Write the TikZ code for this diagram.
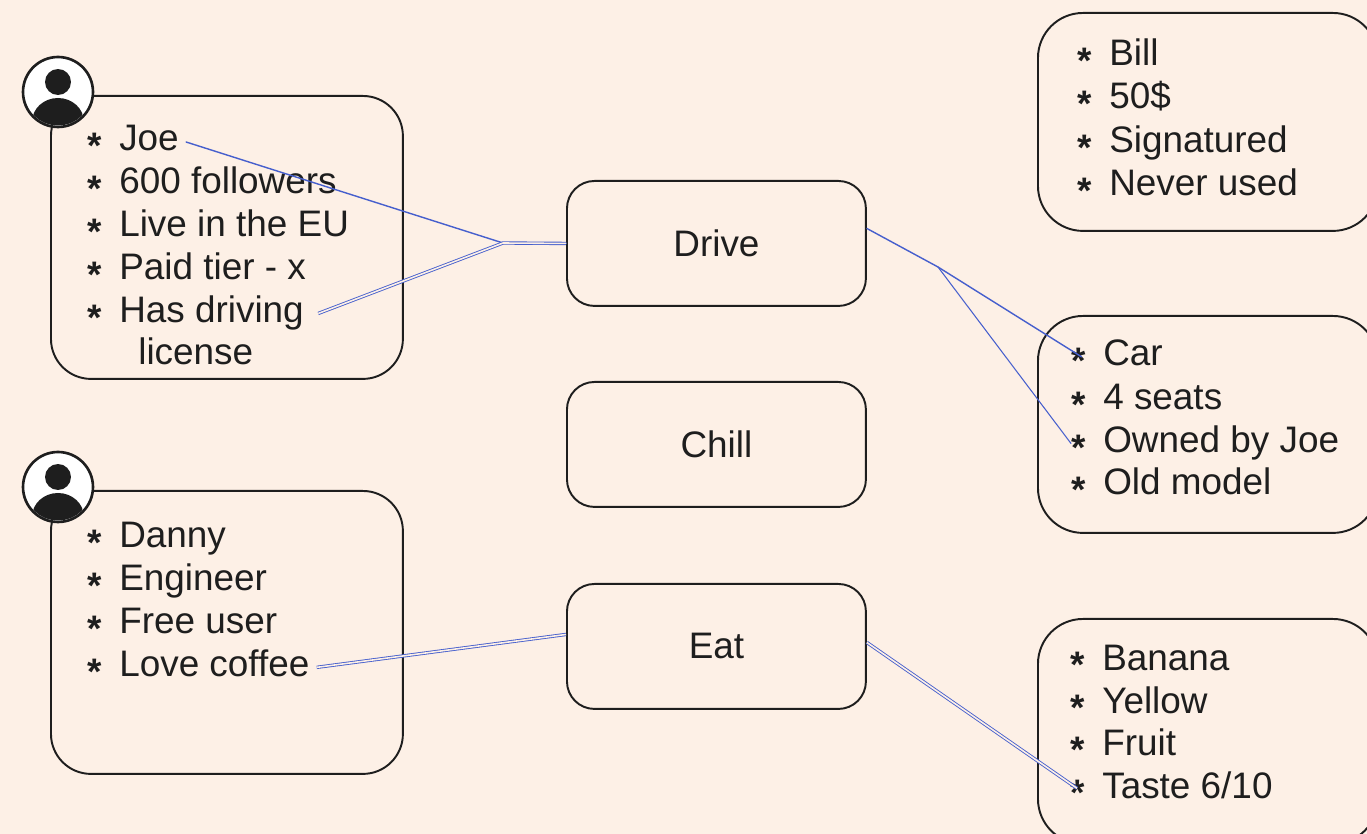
\documentclass[tikz,border=0pt]{standalone}
\usepackage{fontspec}
\setmainfont{Liberation Sans}
\usetikzlibrary{calc}
\definecolor{bg}{HTML}{FDF0E6}
\definecolor{ink}{HTML}{1E1E1E}
\definecolor{wire}{RGB}{70,95,205}
\tikzset{
  card/.style={draw=ink, line width=1.1pt, rounded corners=0.8cm, anchor=north west, inner sep=0pt},
  rcard/.style={draw=ink, line width=1.1pt, rounded corners=0.9cm, anchor=north west, inner sep=0pt, minimum width=6.8cm},
  act/.style={draw=ink, line width=1.1pt, rounded corners=0.55cm, minimum width=5.98cm, minimum height=2.5cm, anchor=north west, inner sep=0pt, text=ink, font=\fontsize{21}{25}\selectfont},
  item/.style={anchor=base west, inner sep=0pt, font=\fontsize{21}{25}\selectfont, text=ink},
  conn/.style={draw=wire, line width=0.8pt, line cap=round, line join=round},
  conn2/.style={draw=wire, line width=0.5pt, double=bg, double distance=0.9pt, line join=round},
  avatar/.style={circle, draw=ink, line width=1.5pt, fill=white, minimum size=1.4cm, inner sep=0pt}
}
\newcommand{\bul}{\raisebox{-0.38ex}{\bfseries *}\hspace{10pt}}
\begin{document}
\begin{tikzpicture}[x=0.02cm,y=-0.02cm]
\fill[bg] (0,0) rectangle (1367,834);
\useasboundingbox (0,0) rectangle (1367,834);
\clip (0,0) rectangle (1367,834);

% boxes
\node[card, minimum width=7.04cm, minimum height=5.66cm] (joebox) at (50,95) {};
\node[card, minimum width=7.04cm, minimum height=5.66cm] (dannybox) at (50,490) {};
\node[act] (drive) at (566,180) {Drive};
\node[act] (chill) at (566,381) {Chill};
\node[act] (eat) at (566,583) {Eat};
\node[rcard, minimum height=4.36cm] (billbox) at (1037,12) {};
\node[rcard, minimum height=4.34cm] (carbox) at (1037,315) {};
\node[rcard, minimum height=4.5cm] (bananabox) at (1037,618) {};

% Joe items
\node[item] (j1) at (87,151) {\bul Joe};
\node[item] (j2) at (87,194) {\bul 600 followers};
\node[item] (j3) at (87,237) {\bul Live in the EU};
\node[item] (j4) at (87,280) {\bul Paid tier - x};
\node[item] (j5) at (87,323) {\bul Has driving};
\node[item] (j6) at (138,365) {license};

% Danny items
\node[item] (d1) at (87,548) {\bul Danny};
\node[item] (d2) at (87,591) {\bul Engineer};
\node[item] (d3) at (87,634) {\bul Free user};
\node[item] (d4) at (87,677) {\bul Love coffee};

% Bill items
\node[item] (b1) at (1077,66) {\bul Bill};
\node[item] (b2) at (1077,109) {\bul 50\$};
\node[item] (b3) at (1077,153) {\bul Signatured};
\node[item] (b4) at (1077,196) {\bul Never used};

% Car items
\node[item] (c1) at (1071,366) {\bul Car};
\node[item] (c2) at (1071,410) {\bul 4 seats};
\node[item] (c3) at (1071,453) {\bul Owned by Joe};
\node[item] (c4) at (1071,495) {\bul Old model};

% Banana items
\node[item] (f1) at (1070,670) {\bul Banana};
\node[item] (f2) at (1070,713) {\bul Yellow};
\node[item] (f3) at (1070,755) {\bul Fruit};
\node[item] (f4) at (1070,798) {\bul Taste 6/10};

% avatars
\node[avatar] (av1) at (58,92) {};
\node[avatar] (av2) at (58,487) {};
\foreach \a in {av1,av2} {
  \begin{scope}
    \clip (\a.center) circle (0.67cm);
    \fill[ink] ($(\a.center)+(0,0.2cm)$) circle (0.26cm);
    \fill[ink] ($(\a.center)+(0,-0.6cm)$) ellipse (0.52cm and 0.48cm);
  \end{scope}
}

% connectors
\coordinate (jn) at (503,243);
\coordinate (jn2) at (938,267);
\draw[conn] ([xshift=4pt]j1.east) -- (jn) -- (drive.west);
\draw[conn2] ([xshift=8pt]j5.east) -- (jn) -- (drive.west);
\draw[conn] ([yshift=0.3cm]drive.east) -- (jn2) -- ([xshift=6pt]c1.west);
\draw[conn, line width=0.6pt] (jn2) -- (c3.west);
\draw[conn2] ([xshift=4pt]d4.east) -- ([yshift=0.24cm]eat.west);
\draw[conn2] ([yshift=0.08cm]eat.east) -- ([xshift=4pt]f4.west);
\end{tikzpicture}
\end{document}
